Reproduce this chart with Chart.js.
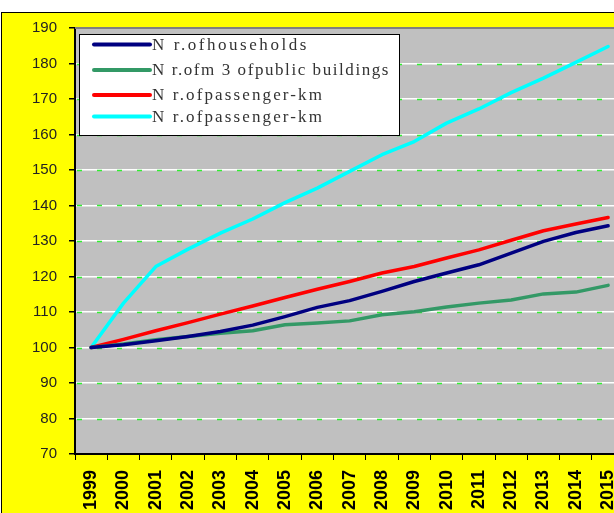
<!DOCTYPE html>
<html>
<head>
<meta charset="utf-8">
<script src="https://cdn.jsdelivr.net/npm/chart.js@4"></script>
<style>
  html, body { margin: 0; padding: 0; background: #ffffff; overflow: hidden; }
  #frame {
    position: absolute; left: 1px; top: 12px;
    width: 660px; height: 520px;
    background: #ffff00;
    border-top: 1px solid #000; border-left: 1px solid #000;
  }
  #myChart { position: absolute; left: 0; top: -6px; }
</style>
</head>
<body>
<div id="frame"><canvas id="myChart" width="638" height="506"></canvas></div>
<script>
// years on the x axis
const years = ['1999','2000','2001','2002','2003','2004','2005','2006','2007','2008','2009','2010','2011','2012','2013','2014','2015'];

// index values (1999 = 100)
const households = [100, 100.8, 101.9, 103.1, 104.5, 106.3, 108.7, 111.3, 113.2, 115.8, 118.6, 121.0, 123.3, 126.6, 129.9, 132.4, 134.3];
const publicBuildings = [100, 101.0, 102.2, 103.1, 104.0, 104.7, 106.4, 106.9, 107.5, 109.2, 110.1, 111.4, 112.5, 113.4, 115.1, 115.6, 117.5];
const passengerKm = [100, 102.3, 104.7, 107.0, 109.4, 111.7, 114.1, 116.4, 118.6, 121.0, 122.8, 125.2, 127.5, 130.2, 132.9, 134.8, 136.6];
const passengerKm2 = [100, 112.5, 122.8, 127.7, 132.2, 136.2, 140.8, 144.9, 149.6, 154.3, 158.0, 163.2, 167.2, 171.8, 175.9, 180.3, 184.8];

// legend labels as they appear
const seriesLabels = ['N r.ofhouseholds', 'N r.ofm 3 ofpublic buildings', 'N r.ofpassenger-km', 'N r.ofpassenger-km'];
const seriesColors = ['#000080', '#339966', '#ff0000', '#00ffff'];

// grey plot area, green dashes on the gridlines, border and legend box
const decorations = {
  id: 'decorations',
  beforeDraw(chart) {
    const a = chart.chartArea;
    const ctx = chart.ctx;
    ctx.save();
    ctx.fillStyle = '#c0c0c0';
    ctx.fillRect(a.left, a.top, a.right - a.left, a.bottom - a.top);
    ctx.restore();
  },
  beforeDatasetsDraw(chart) {
    const a = chart.chartArea;
    const ctx = chart.ctx;
    const y = chart.scales.y;
    ctx.save();
    ctx.strokeStyle = '#33ee33';
    ctx.lineWidth = 1.5;
    ctx.setLineDash([5, 15]);
    y.ticks.forEach(t => {
      if (t.value <= 70 || t.value >= 190) return;
      const py = Math.round(y.getPixelForValue(t.value)) + 0.5;
      ctx.beginPath();
      ctx.moveTo(a.left + 2, py);
      ctx.lineTo(a.right, py);
      ctx.stroke();
    });
    ctx.setLineDash([]);
    // top border of the plot
    ctx.strokeStyle = '#808080';
    ctx.lineWidth = 2;
    ctx.beginPath();
    ctx.moveTo(a.left, a.top);
    ctx.lineTo(a.right, a.top);
    ctx.stroke();
    ctx.restore();
  },
  afterDatasetsDraw(chart) {
    const ctx = chart.ctx;
    ctx.save();
    // legend box (canvas starts 6px above the frame)
    ctx.translate(0, 6);
    ctx.fillStyle = '#ffffff';
    ctx.fillRect(77, 21, 320, 101);
    ctx.strokeStyle = '#000000';
    ctx.lineWidth = 1;
    ctx.strokeRect(77.5, 21.5, 320, 101);
    const rows = [31.5, 57, 82, 103.5];
    const widths = [157, 238, 172, 172];
    ctx.font = '17px "Liberation Serif"';
    ctx.textBaseline = 'middle';
    seriesLabels.forEach((lbl, i) => {
      ctx.strokeStyle = seriesColors[i];
      ctx.lineWidth = 4;
      ctx.lineCap = 'round';
      ctx.beginPath();
      ctx.moveTo(92, rows[i]);
      ctx.lineTo(148, rows[i]);
      ctx.stroke();
      // stretch the text to the width it has in the picture
      ctx.letterSpacing = '0px';
      const w = ctx.measureText(lbl).width;
      const sp = (widths[i] - w) / lbl.length;
      ctx.letterSpacing = sp.toFixed(2) + 'px';
      ctx.fillStyle = '#333333';
      ctx.fillText(lbl, 150, rows[i] + 1);
    });
    ctx.restore();
  }
};

const myChart = document.getElementById('myChart');

let lineChart = new Chart(myChart, {
  type: 'line',
  data: {
    labels: years,
    datasets: [
      { label: seriesLabels[0], data: households, borderColor: seriesColors[0] },
      { label: seriesLabels[1], data: publicBuildings, borderColor: seriesColors[1] },
      { label: seriesLabels[2], data: passengerKm, borderColor: seriesColors[2] },
      { label: seriesLabels[3], data: passengerKm2, borderColor: seriesColors[3] }
    ]
  },
  options: {
    responsive: false,
    animation: false,
    layout: { padding: { left: 0, top: 8, right: 10, bottom: 0 } },
    elements: {
      line: { borderWidth: 3.5, tension: 0, borderCapStyle: 'round', borderJoinStyle: 'round' },
      point: { radius: 0 }
    },
    plugins: {
      legend: { display: false },
      tooltip: { enabled: false }
    },
    scales: {
      x: {
        offset: true,
        grid: { offset: true, drawOnChartArea: false, tickLength: 6, tickColor: '#000000', lineWidth: 1 },
        border: { display: true, color: '#000000', width: 2 },
        ticks: {
          autoSkip: false,
          minRotation: 90,
          maxRotation: 90,
          padding: 10,
          color: '#000000',
          font: { family: '"Liberation Sans", Arial, sans-serif', size: 18, weight: 'bold' }
        },
        afterFit(scale) { scale.height = 59; }
      },
      y: {
        min: 70,
        max: 190,
        grid: { color: '#ffffff', lineWidth: 1.5, tickLength: 6, tickColor: '#000000' },
        border: { display: true, color: '#000000', width: 2 },
        ticks: {
          stepSize: 10,
          padding: 12,
          color: '#222222',
          font: { family: '"Liberation Sans", Arial, sans-serif', size: 15 }
        },
        afterFit(scale) { scale.width = 73; }
      }
    }
  },
  plugins: [decorations]
});
</script>
</body>
</html>
